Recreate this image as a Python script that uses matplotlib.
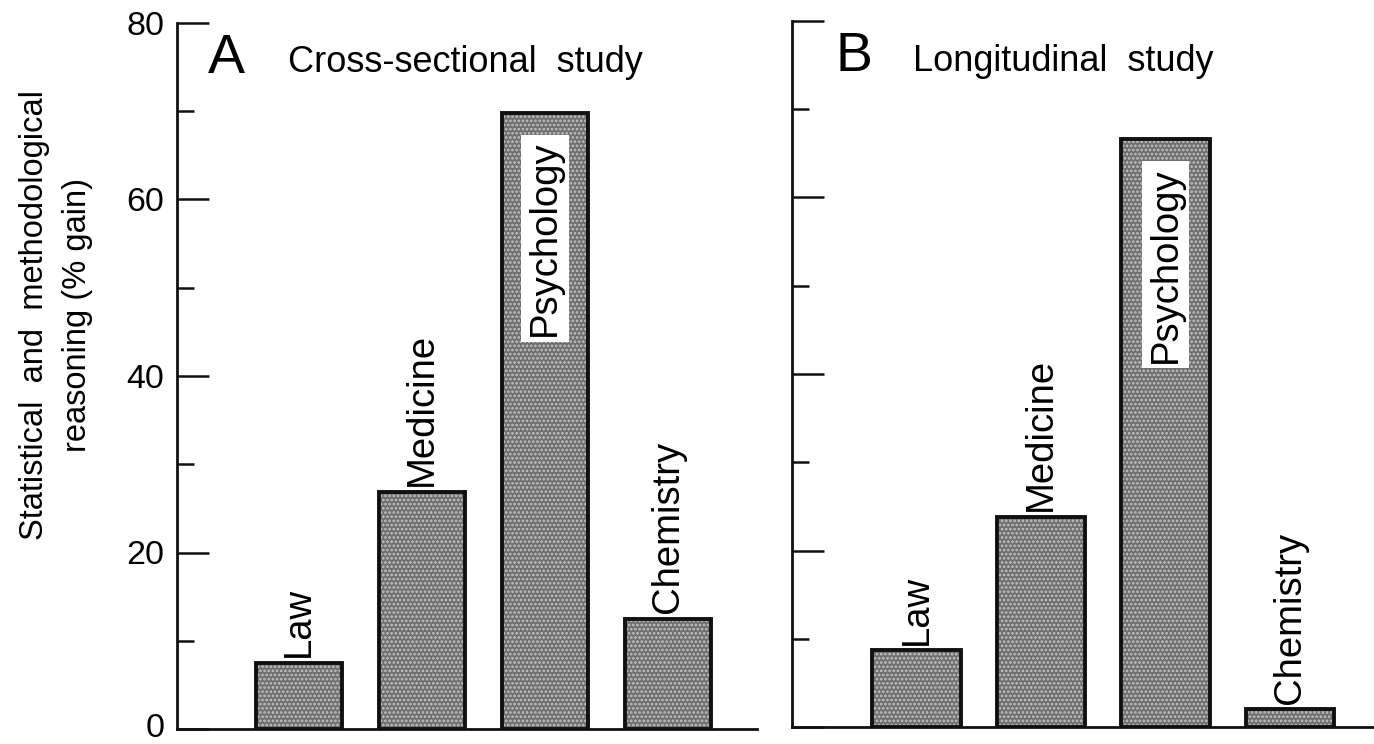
import matplotlib
matplotlib.use("Agg")
import matplotlib.pyplot as plt
from matplotlib.ticker import MultipleLocator
from matplotlib.transforms import ScaledTranslation

plt.rcParams['font.family'] = ['Liberation Sans', 'DejaVu Sans']

categories = ["Law", "Medicine", "Psychology", "Chemistry"]
cross_sectional = [7.5, 26.9, 69.8, 12.5]
longitudinal = [8.7, 23.8, 66.6, 2.0]
panel_letters = ["A", "B"]
panel_titles = ["Cross-sectional  study", "Longitudinal  study"]
y_ticks = [0, 20, 40, 60, 80]
y_label = "Statistical  and  methodological\nreasoning (% gain)"

W, H = 1374, 744
fig = plt.figure(figsize=(W / 100, H / 100), dpi=100)

def fx(px):
    return px / W

def fy(py):
    return 1 - py / H

axA = fig.add_axes([fx(177), fy(729), fx(757) - fx(177), fy(23) - fy(729)])
axB = fig.add_axes([fx(792), fy(727), fx(1374) - fx(792), fy(21) - fy(727)])

fill = "#6f6f6f"
dots = "#c4c4c4"

def draw(ax, values, xlim, width, show_labels):
    x = list(range(len(categories)))
    plt.rcParams['hatch.linewidth'] = 1.3
    ax.bar(x, values, width=width, color=fill, edgecolor=dots, hatch="....",
           linewidth=0, zorder=2)
    ax.bar(x, values, width=width, color="none", edgecolor="#111111",
           linewidth=2.8, zorder=3)
    ax.set_xlim(*xlim)
    ax.set_ylim(0, 80)
    for s in ("top", "right"):
        ax.spines[s].set_visible(False)
    for s in ("left", "bottom"):
        ax.spines[s].set_linewidth(2.0)
        ax.spines[s].set_color("#111111")
    ax.set_xticks([])
    ax.yaxis.set_major_locator(MultipleLocator(20))
    ax.yaxis.set_minor_locator(MultipleLocator(10))
    ax.tick_params(axis="y", which="major", direction="in", length=23,
                   width=1.8, color="#111111", pad=9, labelsize=24.5,
                   labelleft=show_labels)
    ax.tick_params(axis="y", which="minor", direction="in", length=12,
                   width=1.8, color="#111111")
    if show_labels:
        ax.set_yticks(y_ticks)
        fig.canvas.draw()
        for lab in ax.get_yticklabels():
            lab.set_verticalalignment("center_baseline")
            if lab.get_text() == "0":
                lab.set_transform(lab.get_transform() +
                                  ScaledTranslation(0, 4 / 100, fig.dpi_scale_trans))
    for xi, v, name in zip(x, values, categories):
        if name == "Psychology":
            ax.annotate(name, (xi, v), xytext=(0, -20), textcoords="offset points",
                        rotation=90, ha="center", va="top", fontsize=27.5,
                        zorder=5,
                        bbox=dict(boxstyle="square,pad=0.15", fc="white",
                                  ec="none"))
        else:
            ax.annotate(name, (xi, v), xytext=(0, 4), textcoords="offset points",
                        rotation=90, ha="center", va="bottom", fontsize=27.5,
                        zorder=5)

draw(axA, cross_sectional, (-0.992, 3.724), 0.70, True)
draw(axB, longitudinal, (-1.0, 3.675), 0.71, False)

# Panel letters and titles
fig.text(fx(208), fy(73), panel_letters[0], fontsize=40, va="baseline", ha="left")
fig.text(fx(288), fy(72), panel_titles[0], fontsize=26, va="baseline", ha="left")
fig.text(fx(835), fy(71), panel_letters[1], fontsize=40, va="baseline", ha="left")
fig.text(fx(913), fy(71), panel_titles[1], fontsize=26, va="baseline", ha="left")

fig.text(fx(56), fy(315), y_label, rotation=90, fontsize=23.5, ha="center",
         va="center", multialignment="center", linespacing=1.5)

fig.savefig("out.png", dpi=100)
